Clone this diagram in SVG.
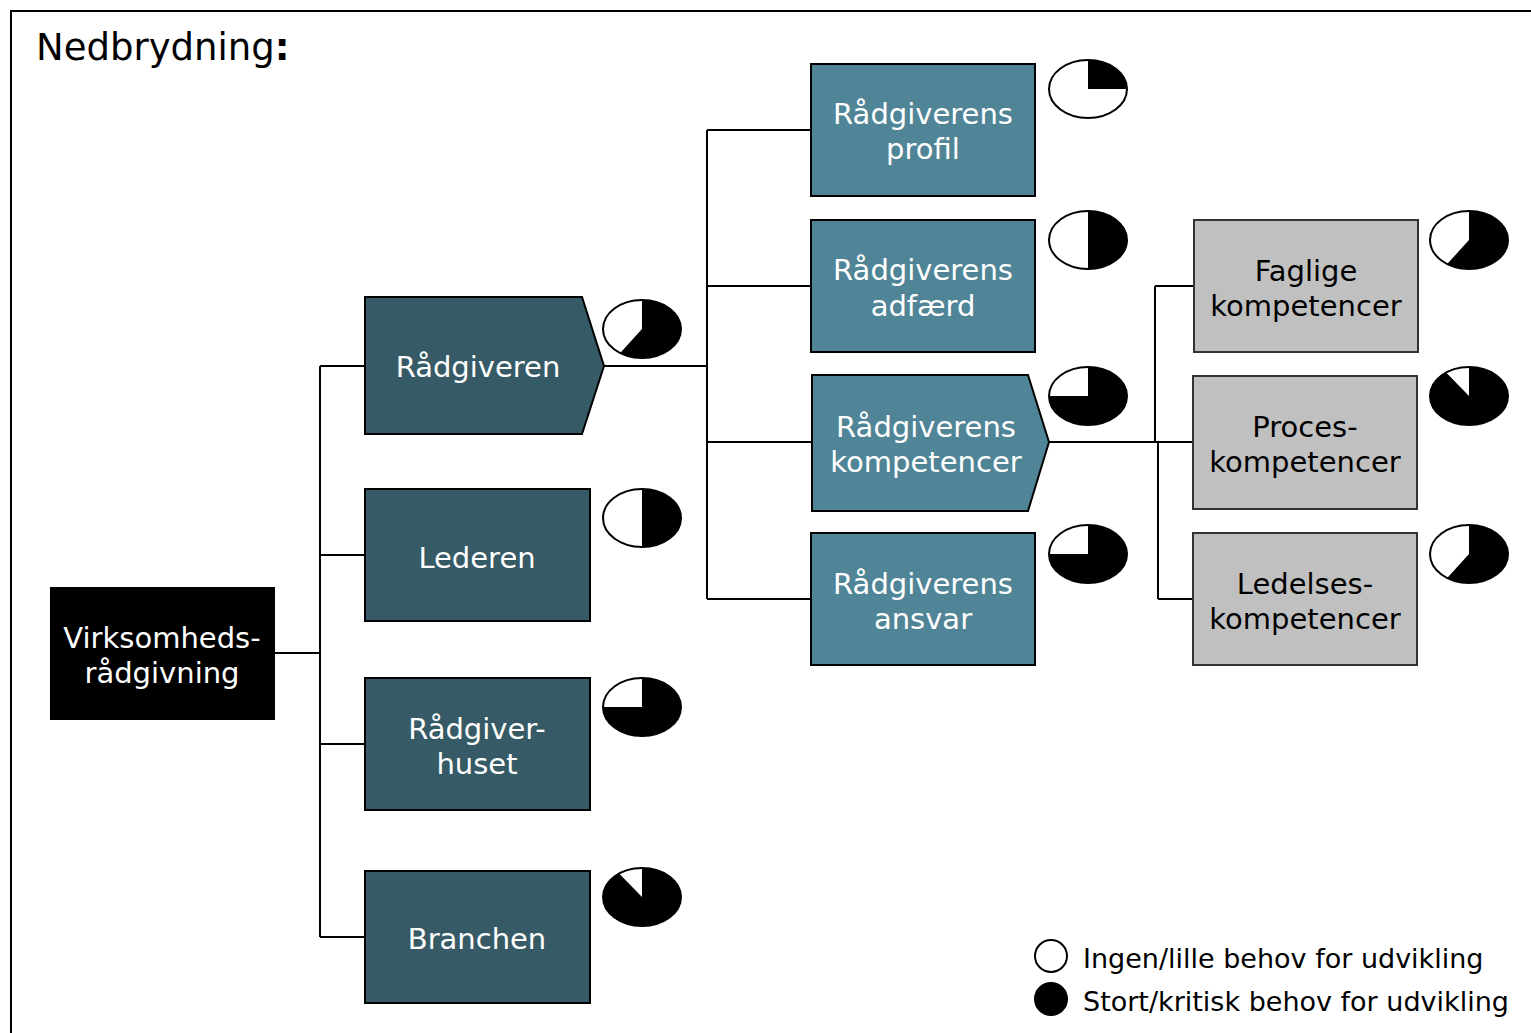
<svg xmlns="http://www.w3.org/2000/svg" width="1531" height="1033" viewBox="0 0 1531 1033">
<style>
text{font-family:"DejaVu Sans",Verdana,sans-serif;font-size:29px;text-anchor:middle}
.w{fill:#fff}.k{fill:#000}
.dk{fill:#365A66;stroke:#000;stroke-width:2}
.lt{fill:#508597;stroke:#000;stroke-width:2}
.gr{fill:#C0C0C0;stroke:#333;stroke-width:2}
.pe{fill:#fff;stroke:#000;stroke-width:2}
.ps{fill:#000}
#connectors path{fill:none;stroke:#000;stroke-width:2}
</style>
<rect width="1531" height="1033" fill="#fff"/>
<rect x="11" y="11" width="1540" height="1040" fill="none" stroke="#000" stroke-width="2"/>
<text x="36" y="60" style="font-size:37px;text-anchor:start">Nedbrydning<tspan font-weight="bold">:</tspan></text>
<g id="connectors">
<path d="M275 653H320M320 366V937M320 366H365M320 555H365M320 744H365M320 937H365"/>
<path d="M604 366H707M707 130V599M707 130H811M707 286H811M707 442H812M707 599H811"/>
<path d="M1049 442H1158M1155 286V442M1155 286H1194M1158 442V599M1158 442H1193M1158 599H1193"/>
</g>
<g id="n-virk"><rect x="50" y="587" width="225" height="133" class="k"/><text x="162" y="648" class="w">Virksomheds-</text><text x="162" y="683" class="w">rådgivning</text></g>
<g id="n-radgiveren"><path d="M365 297H582L604 366L582 434H365Z" class="dk"/><text x="478" y="377" class="w">Rådgiveren</text></g>
<g id="n-lederen"><rect x="365" y="489" width="225" height="132" class="dk"/><text x="477" y="568" class="w">Lederen</text></g>
<g id="n-huset"><rect x="365" y="678" width="225" height="132" class="dk"/><text x="477" y="739" class="w">Rådgiver-</text><text x="477" y="774" class="w">huset</text></g>
<g id="n-branchen"><rect x="365" y="871" width="225" height="132" class="dk"/><text x="477" y="949" class="w">Branchen</text></g>
<g id="n-profil"><rect x="811" y="64" width="224" height="132" class="lt"/><text x="923" y="124" class="w">Rådgiverens</text><text x="923" y="159" class="w">profil</text></g>
<g id="n-adfaerd"><rect x="811" y="220" width="224" height="132" class="lt"/><text x="923" y="280" class="w">Rådgiverens</text><text x="923" y="316" class="w">adfærd</text></g>
<g id="n-komp"><path d="M812 375H1028L1049 442L1028 511H812Z" class="lt"/><text x="926" y="437" class="w">Rådgiverens</text><text x="926" y="472" class="w">kompetencer</text></g>
<g id="n-ansvar"><rect x="811" y="533" width="224" height="132" class="lt"/><text x="923" y="594" class="w">Rådgiverens</text><text x="923" y="629" class="w">ansvar</text></g>
<g id="n-faglige"><rect x="1194" y="220" width="224" height="132" class="gr"/><text x="1306" y="281" class="k">Faglige</text><text x="1306" y="316" class="k">kompetencer</text></g>
<g id="n-proces"><rect x="1193" y="376" width="224" height="133" class="gr"/><text x="1305" y="437" class="k">Proces-</text><text x="1305" y="472" class="k">kompetencer</text></g>
<g id="n-ledelses"><rect x="1193" y="533" width="224" height="132" class="gr"/><text x="1305" y="594" class="k">Ledelses-</text><text x="1305" y="629" class="k">kompetencer</text></g>
<g id="pies">
<g id="pie-radgiveren"><ellipse cx="642" cy="329" rx="39" ry="29" class="pe"/><path d="M642 329V300A39 29 0 1 1 620.2 353Z" class="ps"/></g>
<g id="pie-lederen"><ellipse cx="642" cy="518" rx="39" ry="29" class="pe"/><path d="M642 518V489A39 29 0 0 1 642 547Z" class="ps"/></g>
<g id="pie-huset"><ellipse cx="642" cy="707" rx="39" ry="29" class="pe"/><path d="M642 707V678A39 29 0 1 1 603 707Z" class="ps"/></g>
<g id="pie-branchen"><ellipse cx="642" cy="897" rx="39" ry="29" class="pe"/><path d="M642 897V868A39 29 0 1 1 619.1 873.5Z" class="ps"/></g>
<g id="pie-profil"><ellipse cx="1088" cy="89" rx="39" ry="29" class="pe"/><path d="M1088 89V60A39 29 0 0 1 1127 89Z" class="ps"/></g>
<g id="pie-adfaerd"><ellipse cx="1088" cy="240" rx="39" ry="29" class="pe"/><path d="M1088 240V211A39 29 0 0 1 1088 269Z" class="ps"/></g>
<g id="pie-komp"><ellipse cx="1088" cy="396" rx="39" ry="29" class="pe"/><path d="M1088 396V367A39 29 0 1 1 1049 396Z" class="ps"/></g>
<g id="pie-ansvar"><ellipse cx="1088" cy="554" rx="39" ry="29" class="pe"/><path d="M1088 554V525A39 29 0 1 1 1049 554Z" class="ps"/></g>
<g id="pie-faglige"><ellipse cx="1469" cy="240" rx="39" ry="29" class="pe"/><path d="M1469 240V211A39 29 0 1 1 1447.2 264Z" class="ps"/></g>
<g id="pie-proces"><ellipse cx="1469" cy="396" rx="39" ry="29" class="pe"/><path d="M1469 396V367A39 29 0 1 1 1446.1 372.5Z" class="ps"/></g>
<g id="pie-ledelses"><ellipse cx="1469" cy="554" rx="39" ry="29" class="pe"/><path d="M1469 554V525A39 29 0 1 1 1447.2 578Z" class="ps"/></g>
</g>
<g id="legend">
<circle cx="1051" cy="956" r="16" class="pe"/>
<circle cx="1051" cy="999" r="16" class="k" stroke="#000" stroke-width="2"/>
<text x="1083" y="968" style="font-size:27px;text-anchor:start">Ingen/lille behov for udvikling</text>
<text x="1083" y="1011" style="font-size:27px;text-anchor:start">Stort/kritisk behov for udvikling</text>
</g>
</svg>
